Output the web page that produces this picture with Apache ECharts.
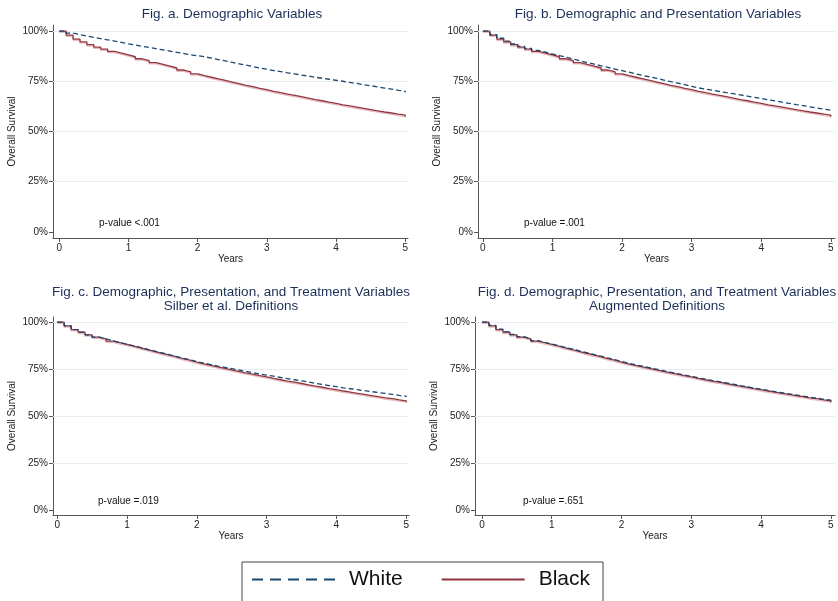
<!DOCTYPE html>
<html><head><meta charset="utf-8">
<script src="https://cdn.jsdelivr.net/npm/echarts@6/dist/echarts.min.js"></script>
<style>html,body{margin:0;padding:0;background:#fff}#c{width:838px;height:601px}</style>
</head><body><div id="c"></div>
<script>
const years = [0,0.1,0.2,0.3,0.4,0.5,0.6,0.7,0.8,0.9,1,1.1,1.2,1.3,1.4,1.5,1.6,1.7,1.8,1.9,2,2.1,2.2,2.3,2.4,2.5,2.6,2.7,2.8,2.9,3,3.1,3.2,3.3,3.4,3.5,3.6,3.7,3.8,3.9,4,4.1,4.2,4.3,4.4,4.5,4.6,4.7,4.8,4.9,5];
const xTicks = [0,1,2,3,4,5];
const yTicks = [0,25,50,75,100];
const panelTitles = [
  'Fig. a. Demographic Variables',
  'Fig. b. Demographic and Presentation Variables',
  'Fig. c. Demographic, Presentation, and Treatment Variables\nSilber et al. Definitions',
  'Fig. d. Demographic, Presentation, and Treatment Variables\nAugmented Definitions'
];
const pValues = ['p-value <.001','p-value =.001','p-value =.019','p-value =.651'];
const seriesNames = ['White','Black'];

const blackSurv = [100,98.0,96.0,94.6,93.2,92.0,91.0,89.9,89.0,88.1,87.2,86.2,85.3,84.3,83.4,82.5,81.6,80.6,79.7,78.7,77.8,77.0,76.2,75.4,74.6,73.8,73.0,72.3,71.5,70.8,70.0,69.3,68.6,68.0,67.3,66.6,65.9,65.3,64.6,64.0,63.3,62.7,62.1,61.5,60.9,60.3,59.7,59.2,58.6,58.1,57.5];
const whiteA = [100,99.0,98.2,97.5,96.8,96.2,95.6,95.0,94.3,93.6,93.0,92.4,91.8,91.2,90.6,90.0,89.4,88.8,88.2,87.7,87.2,86.5,85.8,85.1,84.4,83.7,83.0,82.3,81.6,81.0,80.3,79.8,79.2,78.7,78.1,77.6,77.0,76.5,76.0,75.5,75.0,74.4,73.9,73.3,72.8,72.2,71.6,71.1,70.5,70.0,69.5];
const whiteB = [100,98.2,96.4,95.0,93.6,92.4,91.4,90.4,89.5,88.6,87.8,86.9,86.0,85.2,84.3,83.5,82.7,81.9,81.0,80.3,79.5,78.7,77.9,77.2,76.4,75.6,74.8,74.1,73.3,72.5,71.7,71.1,70.5,69.9,69.3,68.8,68.2,67.6,67.0,66.4,65.8,65.2,64.6,64.0,63.4,62.9,62.3,61.7,61.1,60.6,60.0];
const whiteC = [100,98.0,96.0,94.6,93.2,92.0,91.0,90.0,89.1,88.2,87.3,86.4,85.4,84.5,83.6,82.7,81.8,80.8,79.9,79.0,78.2,77.4,76.6,75.9,75.2,74.5,73.8,73.1,72.4,71.8,71.2,70.5,69.9,69.3,68.7,68.1,67.4,66.8,66.2,65.6,65.0,64.5,64.0,63.5,63.0,62.5,62.0,61.5,61.0,60.6,60.1];
const whiteD = [100,98.2,96.2,94.8,93.4,92.2,91.2,90.1,89.2,88.3,87.4,86.5,85.6,84.6,83.7,82.8,81.9,80.9,80.0,79.0,78.1,77.3,76.5,75.7,74.9,74.1,73.3,72.6,71.8,71.1,70.3,69.6,68.9,68.3,67.6,66.9,66.2,65.6,64.9,64.3,63.6,63.0,62.4,61.8,61.2,60.6,60.0,59.5,58.9,58.4,57.8];
const whitePanels = [whiteA, whiteB, whiteC, whiteD];
const blackPanels = [blackSurv, blackSurv, blackSurv, blackSurv];

const FONT = '"Liberation Sans", Arial, sans-serif';
const BLUE = '#1a476f', RED = '#90353b', NAVY = '#1c2f57';
const layout = [
  {g:{left:53, top:25, width:355, height:213}, xr:[-0.09,5.04], yr:[-3,103], tx:232, ty:8, px:99, py:223},
  {g:{left:478, top:25, width:357, height:213}, xr:[-0.07,5.06], yr:[-3,103], tx:658, ty:8, px:524, py:223},
  {g:{left:53, top:317, width:356, height:198}, xr:[-0.06,5.04], yr:[-2.7,102.7], tx:231, ty:286, px:98, py:501},
  {g:{left:475, top:317, width:360, height:198}, xr:[-0.1,5.06], yr:[-2.7,102.7], tx:657, ty:286, px:523, py:501}
];

const grid=[], xAxis=[], yAxis=[], series=[], graphic=[];
layout.forEach((L,i)=>{
  grid.push(L.g);
  xAxis.push({type:'value', gridIndex:i, min:L.xr[0], max:L.xr[1],
    name:'Years', nameLocation:'middle', nameGap:15, nameTextStyle:{fontFamily:FONT,fontSize:10,color:'#222'},
    axisLine:{show:true,onZero:false,lineStyle:{color:'#555',width:1}},
    axisTick:{show:true,length:4,lineStyle:{color:'#555'},customValues:xTicks},
    axisLabel:{fontFamily:FONT,fontSize:10,color:'#222',margin:5,customValues:xTicks},
    splitLine:{show:false}});
  yAxis.push({type:'value', gridIndex:i, min:L.yr[0], max:L.yr[1],
    name:'Overall Survival', nameLocation:'middle', nameGap:36, nameTextStyle:{fontFamily:FONT,fontSize:10,color:'#222'},
    axisLine:{show:true,onZero:false,lineStyle:{color:'#555',width:1}},
    axisTick:{show:true,length:4,lineStyle:{color:'#555'},customValues:yTicks},
    axisLabel:{fontFamily:FONT,fontSize:10,color:'#222',margin:5,customValues:yTicks,formatter:v=>v+'%'},
    splitLine:{show:false}});
  series.push({name:'Black', type:'line', xAxisIndex:i, yAxisIndex:i, step:'end', symbol:'none', z:3,
    data: years.map((t,k)=>[t, blackPanels[i][k]]),
    lineStyle:{color:RED,width:1.3,shadowColor:'rgba(205,120,130,0.5)',shadowOffsetY:1.3,shadowBlur:0},
    itemStyle:{color:RED},
    markLine:{silent:true,symbol:'none',label:{show:false},z:1,
      lineStyle:{color:'#e6eef1',type:'solid',width:1},
      data: yTicks.filter(v=>v>0).map(v=>({yAxis:v}))}});
  series.push({name:'White', type:'line', xAxisIndex:i, yAxisIndex:i, step:'end', symbol:'none', z:4,
    data: years.map((t,k)=>[t, whitePanels[i][k]]),
    lineStyle:{color:BLUE,width:1.3,type:[5,3]}, itemStyle:{color:BLUE}});
  graphic.push({type:'text', x:L.tx, y:L.ty,
    style:{text:panelTitles[i], textAlign:'center', textVerticalAlign:'top', fill:NAVY, fontFamily:FONT, fontSize:13.5, lineHeight:13.5}});
  graphic.push({type:'text', x:L.px, y:L.py-5,
    style:{text:pValues[i], fill:'#111', fontFamily:FONT, fontSize:10}});
});

const chart = echarts.init(document.getElementById('c'), null, {renderer:'canvas'});
chart.setOption({
  animation:false,
  backgroundColor:'#fff',
  grid, xAxis, yAxis, series,
  legend:{
    data:[
      {name:seriesNames[0], lineStyle:{type:[11,7], width:2, shadowColor:'transparent'}},
      {name:seriesNames[1], lineStyle:{type:'solid', width:2, shadowColor:'transparent'}}
    ],
    left:242, top:562, itemWidth:83, itemHeight:14, itemGap:38,
    selectedMode:false,
    itemStyle:{opacity:0},
    textStyle:{fontFamily:FONT,fontSize:21,color:'#111',padding:[0,0,0,9]},
    borderColor:'#444', borderWidth:1, borderRadius:0, padding:[7,13,20,9]},
  graphic
});
</script></body></html>
